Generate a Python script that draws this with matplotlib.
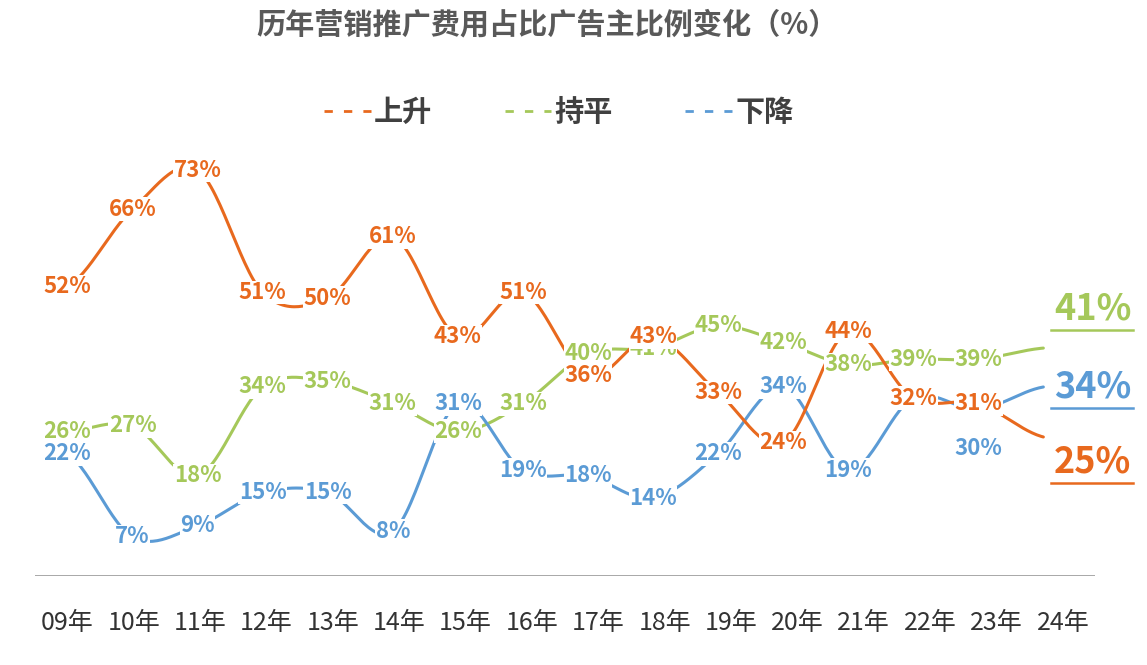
import numpy as np
import matplotlib
matplotlib.use("Agg")
import matplotlib.pyplot as plt

plt.rcParams['font.family'] = ['Noto Sans CJK SC', 'DejaVu Sans']

years = ["09年","10年","11年","12年","13年","14年","15年","16年","17年","18年","19年","20年","21年","22年","23年","24年"]
up   = [52,66,73,51,50,61,43,51,36,43,33,24,44,32,31,25]
flat = [26,27,18,34,35,31,26,31,40,41,45,42,38,39,39,41]
down = [22,7,9,15,15,8,31,19,18,14,22,34,19,32,30,34]
names = ["上升","持平","下降"]
colors = ["#E8691E","#A5C85A","#5B9BD5"]

def smooth(y, n=30):
    y = np.asarray(y, float)
    P = np.concatenate([[y[0]], y, [y[-1]]])
    xs, ys = [], []
    for i in range(len(y)-1):
        p0,p1,p2,p3 = P[i],P[i+1],P[i+2],P[i+3]
        t = np.linspace(0,1,n)
        yy = 0.5*((2*p1)+(-p0+p2)*t+(2*p0-5*p1+4*p2-p3)*t**2+(-p0+3*p1-3*p2+p3)*t**3)
        xs.append(i+t); ys.append(yy)
    return np.concatenate(xs), np.concatenate(ys)

fig = plt.figure(figsize=(11.47,6.65), dpi=100)
ax = fig.add_axes([0.0305,0.134,0.9245,0.64])
ax.set_xlim(-0.5,15.8); ax.set_ylim(0,76.6)
for s in ax.spines.values(): s.set_visible(False)
ax.set_yticks([]); ax.set_xticks([])
ax.axhline(0, color="#999999", lw=1.2)
for i,yr in enumerate(years):
    ax.text(i+0.02*i, -8.5, yr, ha="center", va="center", fontsize=18, color="#333333", clip_on=False)

offsets = {("down",14): -7}
for data,c,key in zip([flat,down,up],[colors[1],colors[2],colors[0]],["flat","down","up"]):
    xs,ys = smooth(data)
    ax.plot(xs,ys,color=c,lw=2.2,solid_capstyle="round")
    for i,v in enumerate(data[:-1]):
        ax.text(i,v+offsets.get((key,i),0),f"{v}%",ha="center",va="center",fontsize=16,fontweight="bold",color=c,
                bbox=dict(facecolor="white",edgecolor="none",pad=0.3),zorder=5)
# final labels
for data,c,dy in zip([up,flat,down],colors,[-4.5,7,0]):
    v = data[-1]
    ax.text(15.76, v+dy, f"{v}%", ha="center", va="center", fontsize=26, fontweight="bold", color=c,
            zorder=6, clip_on=False)
    ax.plot([15.12,16.38],[v+dy-3.7,v+dy-3.7],color=c,lw=1.8,clip_on=False,zorder=7)

fig.text(0.477,0.963,"历年营销推广费用占比广告主比例变化（%）",ha="center",va="center",
         fontsize=21,fontweight="bold",color="#595959")
from matplotlib.lines import Line2D
handles=[Line2D([0],[0],color=c,lw=2,ls=(0,(3,4))) for c in colors]
fig.legend(handles,names,loc="center",bbox_to_anchor=(0.487,0.832),ncol=3,frameon=False,
           prop=dict(size=21,weight="bold"),handlelength=1.6,columnspacing=2.5,handletextpad=0.1,labelcolor="#404040")
fig.savefig("out.png",dpi=100)
